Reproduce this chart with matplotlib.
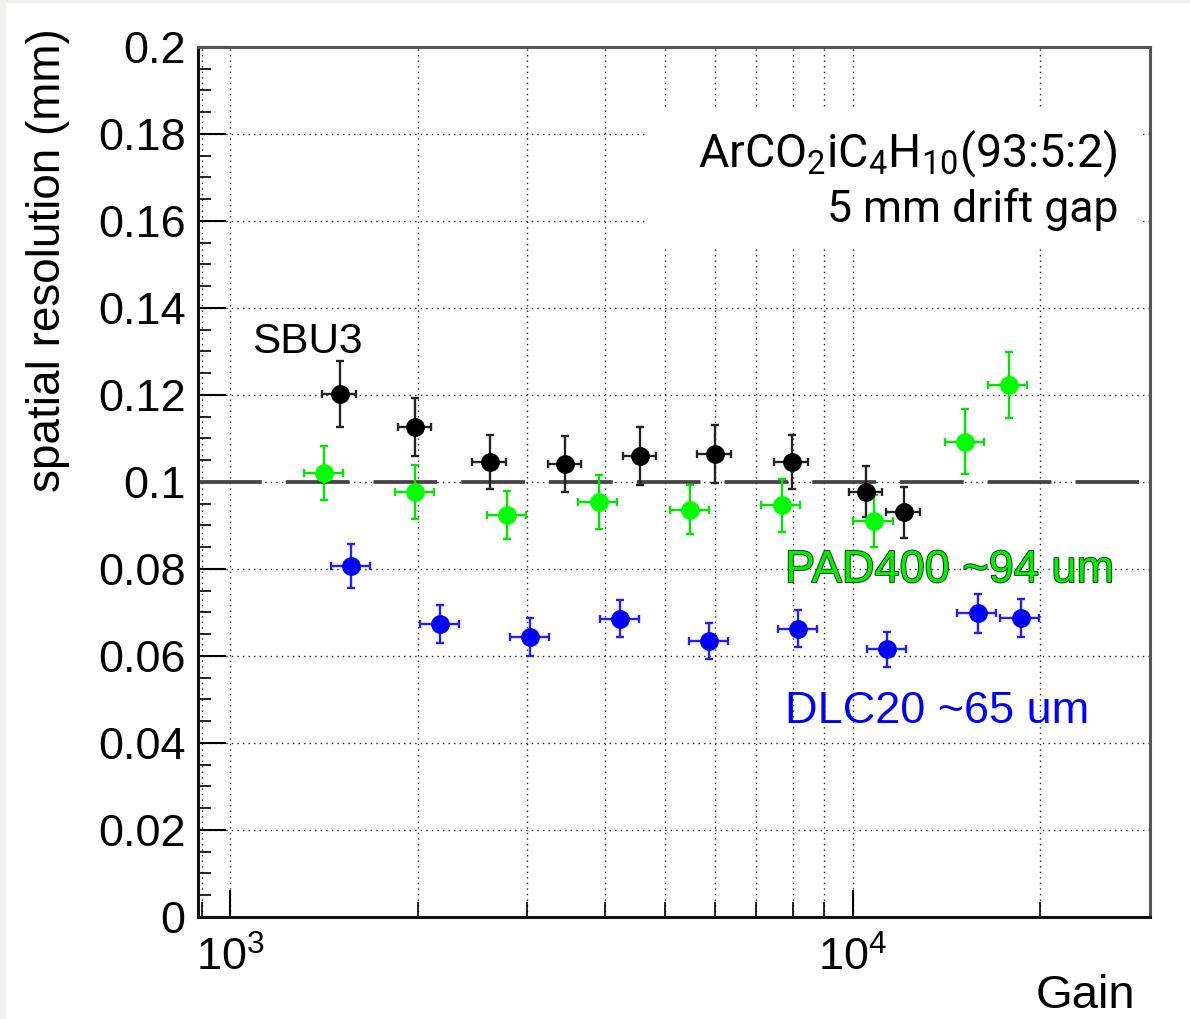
import numpy as np
import matplotlib.pyplot as plt
from matplotlib.patches import Rectangle
from matplotlib.ticker import MultipleLocator, FuncFormatter, NullFormatter, LogLocator
import matplotlib.patheffects as pe

plt.rcParams['font.family'] = ['Liberation Sans', 'DejaVu Sans']
plt.rcParams['mathtext.default'] = 'regular'

# SBU3 (black)
gain_sbu = [1500, 1980, 2610, 3450, 4550, 6000, 7970, 10490, 12060]
gain_sbu_err = [93, 123, 162, 214, 282, 372, 494, 650, 748]
res_sbu = [0.1202, 0.1127, 0.1045, 0.1041, 0.1060, 0.1064, 0.1045, 0.0978, 0.0930]
res_sbu_err = [0.0075, 0.0067, 0.0062, 0.0064, 0.0067, 0.0067, 0.0062, 0.0058, 0.0058]

# PAD400 (green)
gain_pad = [1415, 1980, 2785, 3905, 5485, 7685, 10800, 15150, 17790]
gain_pad_err = [102, 143, 201, 281, 395, 553, 778, 1091, 1281]
res_pad = [0.1020, 0.0978, 0.0925, 0.0955, 0.0936, 0.0946, 0.0911, 0.1093, 0.1222]
res_pad_err = [0.0062, 0.0062, 0.0055, 0.0062, 0.0056, 0.0060, 0.0060, 0.0074, 0.0076]

# DLC20 (blue)
gain_dlc = [1565, 2175, 3030, 4225, 5875, 8155, 11360, 15860, 18590]
gain_dlc_err = [113, 157, 218, 304, 423, 587, 818, 1142, 1338]
res_dlc = [0.0807, 0.0674, 0.0644, 0.0686, 0.0635, 0.0663, 0.0615, 0.0698, 0.0688]
res_dlc_err = [0.0050, 0.0043, 0.0043, 0.0043, 0.0041, 0.0043, 0.0041, 0.0045, 0.0044]

ref_level = 0.1

fig = plt.figure(figsize=(11.9, 10.19), dpi=100)
fig.patch.set_facecolor('#f0f0ee')
fig.add_artist(Rectangle((6 / 1190, 0), 1, 1 - 3 / 1019, transform=fig.transFigure,
                         facecolor='white', edgecolor='none', zorder=-1))

ax = fig.add_axes([0.1664, 0.1001, 0.8, 0.8538])
ax.set_xscale('log')
ax.set_xlim(888, 30000)
ax.set_ylim(0, 0.2)

# ROOT-like dotted grid
ax.set_axisbelow(True)
grid_style = dict(color='#222222', linestyle=(0, (1, 3)), linewidth=1.0)
ax.grid(True, which='both', axis='x', **grid_style)
ax.grid(True, which='major', axis='y', **grid_style)

# white pave behind the gas label
ax.add_patch(Rectangle((0.4716, 0.770), 0.521, 0.161, transform=ax.transAxes,
                       facecolor='white', edgecolor='none', zorder=1))

ax.axhline(ref_level, color='#444444', lw=2.7, linestyle=(0, (17, 6.4)), zorder=2)

common = dict(fmt='o', ms=12.5, elinewidth=1.7, capsize=3.2, capthick=1.7, zorder=3)
ax.errorbar(gain_sbu, res_sbu, xerr=gain_sbu_err, yerr=res_sbu_err,
            color='black', ecolor='#222222', **common)
ax.errorbar(gain_dlc, res_dlc, xerr=gain_dlc_err, yerr=res_dlc_err,
            color='#0000ff', ecolor='#2020ff', **common)
ax.errorbar(gain_pad, res_pad, xerr=gain_pad_err, yerr=res_pad_err,
            color='#00ff00', ecolor='#00e600', **common)

# axes and ticks
ax.xaxis.set_major_locator(LogLocator(base=10))
ax.xaxis.set_minor_locator(LogLocator(base=10, subs=np.arange(2, 10)))
ax.xaxis.set_major_formatter(FuncFormatter(lambda v, p: r'10$^{%d}$' % round(np.log10(v))))
ax.xaxis.set_minor_formatter(NullFormatter())
ax.yaxis.set_major_locator(MultipleLocator(0.02))
ax.yaxis.set_minor_locator(MultipleLocator(0.005))
ax.yaxis.set_major_formatter(FuncFormatter(lambda v, p: '%g' % round(v, 3)))

ax.tick_params(axis='both', which='both', direction='in', top=False, right=False, color='black')
ax.tick_params(axis='y', which='major', length=20, width=1.5, pad=9, labelsize=32.5)
ax.tick_params(axis='y', which='minor', length=9.5, width=1.2)
ax.tick_params(axis='x', which='major', length=19.5, width=1.5, pad=14, labelsize=32.5)
ax.tick_params(axis='x', which='minor', length=11, width=1.2)

for side in ['left', 'bottom']:
    ax.spines[side].set_linewidth(2.2)
    ax.spines[side].set_color('#111111')
for side in ['top', 'right']:
    ax.spines[side].set_linewidth(2.2)
    ax.spines[side].set_color('#555555')

ax.set_ylabel('spatial resolution (mm)', fontsize=33)
ax.yaxis.set_label_coords(-0.1345, 1.0218)
ax.yaxis.label.set_ha('right')

ax.set_xlabel('Gain', fontsize=34)
ax.xaxis.set_label_coords(0.9842, -0.1046)
ax.xaxis.label.set_ha('right')
ax.xaxis.label.set_va('baseline')

# annotations
ax.text(0.0567, 0.648, 'SBU3', transform=ax.transAxes, fontsize=30.5, va='baseline', zorder=4)
ax.text(0.9653, 0.862, r'ArCO$_{2}$iC$_{4}$H$_{10}$(93:5:2)', transform=ax.transAxes,
        family='Roboto', fontsize=33.5, ha='right', va='baseline', zorder=4)
ax.text(0.9664, 0.7989, '5 mm drift gap', transform=ax.transAxes,
        family='Roboto', fontsize=32, ha='right', va='baseline', zorder=4)
ax.text(0.6166, 0.385, 'PAD400 ~94 um', transform=ax.transAxes, fontsize=32.5,
        color='#00f000', va='baseline', zorder=4,
        path_effects=[pe.withStroke(linewidth=1.3, foreground='#103010')])
ax.text(0.6166, 0.223, 'DLC20 ~65 um', transform=ax.transAxes, fontsize=32.5,
        color='#0000ff', va='baseline', zorder=4)

fig.savefig('out.png', dpi=100, facecolor=fig.get_facecolor())
